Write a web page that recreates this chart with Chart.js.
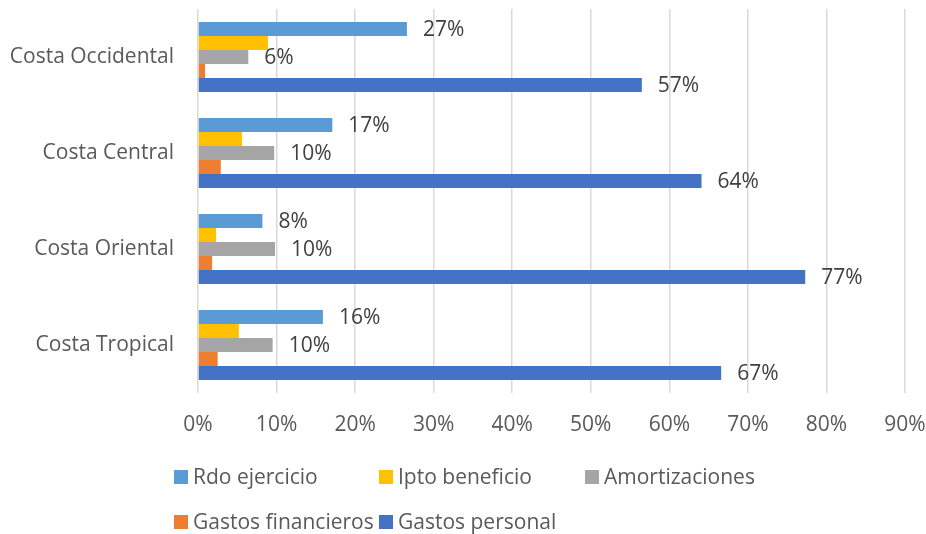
<!DOCTYPE html>
<html>
<head>
<meta charset="utf-8">
<script src="https://cdn.jsdelivr.net/npm/chart.js@4/dist/chart.umd.min.js"></script>
<style>
  html, body { margin: 0; padding: 0; background: #fff; }
  #wrap { position: relative; width: 926px; height: 534px; }
</style>
</head>
<body>
<div id="wrap"><canvas id="costas"></canvas></div>
<script>
const zonas = ['Costa Occidental', 'Costa Central', 'Costa Oriental', 'Costa Tropical'];
const rdoEjercicio = [26.6, 17.1, 8.2, 15.9];
const iptoBeneficio = [8.9, 5.6, 2.3, 5.2];
const amortizaciones = [6.4, 9.7, 9.8, 9.5];
const gastosFinancieros = [0.9, 2.9, 1.8, 2.5];
const gastosPersonal = [56.5, 64.1, 77.3, 66.6];
const ejeX = [0, 10, 20, 30, 40, 50, 60, 70, 80, 90];

const FONT = '"Open Sans", Lato, sans-serif';
const SIZE = 21;
// series that carry a value label at the bar end
const etiquetadas = [0, 2, 4];

const valueLabels = {
    id: 'valueLabels',
    afterDatasetsDraw(chart) {
        const ctx = chart.ctx;
        ctx.save();
        ctx.font = SIZE + 'px ' + FONT;
        ctx.fillStyle = '#404040';
        ctx.textAlign = 'left';
        ctx.textBaseline = 'middle';
        etiquetadas.forEach(i => {
            const meta = chart.getDatasetMeta(i);
            meta.data.forEach((bar, j) => {
                const v = chart.data.datasets[i].data[j];
                ctx.fillText(Math.round(v) + '%', bar.x + 16, bar.y + 1);
            });
        });
        ctx.restore();
    }
};

// Legend laid out in fixed columns, wrapping after three items
const gridLegend = {
    id: 'gridLegend',
    afterDraw(chart) {
        const ctx = chart.ctx;
        const cols = [174, 379, 585];
        const rows = [477, 522];
        ctx.save();
        ctx.font = SIZE + 'px ' + FONT;
        ctx.textBaseline = 'middle';
        chart.data.datasets.forEach((ds, i) => {
            const x = cols[i % 3];
            const y = rows[Math.floor(i / 3)];
            ctx.fillStyle = ds.backgroundColor;
            ctx.fillRect(x, y - 7, 14, 14);
            ctx.fillStyle = '#595959';
            ctx.fillText(ds.label, x + 19, y + 1);
        });
        ctx.restore();
    }
};

const ctx = document.getElementById('costas').getContext('2d');
new Chart(ctx, {
    type: 'bar',
    data: {
        labels: zonas,
        datasets: [
            { label: 'Rdo ejercicio', data: rdoEjercicio, backgroundColor: '#5B9BD5' },
            { label: 'Ipto beneficio', data: iptoBeneficio, backgroundColor: '#FFC000' },
            { label: 'Amortizaciones', data: amortizaciones, backgroundColor: '#A5A5A5' },
            { label: 'Gastos financieros', data: gastosFinancieros, backgroundColor: '#ED7D31' },
            { label: 'Gastos personal', data: gastosPersonal, backgroundColor: '#4472C4' }
        ]
    },
    options: {
        indexAxis: 'y',
        responsive: true,
        maintainAspectRatio: false,
        animation: false,
        datasets: {
            bar: { categoryPercentage: 0.73, barPercentage: 1.0 }
        },
        layout: { padding: { top: 9, right: 21, bottom: 91, left: 0 } },
        plugins: {
            legend: { display: false },
            tooltip: { enabled: false }
        },
        scales: {
            x: {
                min: 0,
                max: 90,
                afterBuildTicks(scale) {
                    scale.ticks = ejeX.map(v => ({ value: v }));
                },
                afterFit(scale) {
                    scale.height = 50;
                    scale.paddingLeft = 0;
                    scale.paddingRight = 0;
                },
                grid: { color: '#d9d9d9', lineWidth: 1.5, drawTicks: false },
                border: { display: false },
                ticks: {
                    padding: 19,
                    color: '#595959',
                    font: { family: FONT, size: SIZE },
                    callback: v => v + '%'
                }
            },
            y: {
                afterFit(scale) {
                    scale.width = 198;
                    scale.paddingTop = 0;
                    scale.paddingBottom = 0;
                },
                grid: { display: false, drawTicks: false },
                border: { display: false },
                ticks: {
                    padding: 24,
                    color: '#595959',
                    font: { family: FONT, size: SIZE }
                }
            }
        }
    },
    plugins: [valueLabels, gridLegend]
});
</script>
</body>
</html>
